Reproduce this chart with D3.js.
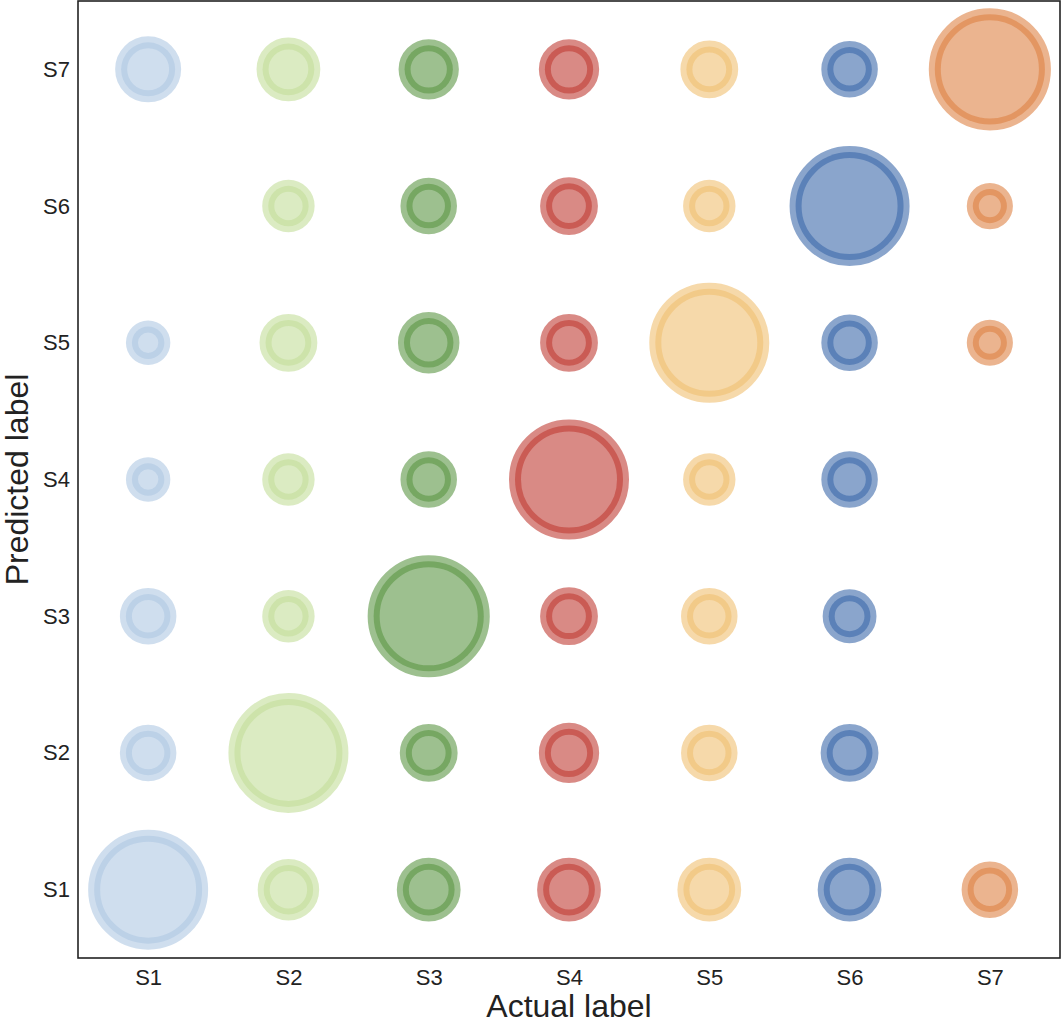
<!DOCTYPE html>
<html>
<head>
<meta charset="utf-8">
<script src="https://cdn.jsdelivr.net/npm/d3@7"></script>
<style>
  body { margin: 0; background: #fff; }
  text { font-family: "Liberation Sans", Arial, sans-serif; fill: #222; }
</style>
</head>
<body>
<div id="chart"></div>
<script>
// labels
var actualLabels = ["S1", "S2", "S3", "S4", "S5", "S6", "S7"];
var predictedLabels = ["S1", "S2", "S3", "S4", "S5", "S6", "S7"];
var labelColors = ["#afc8e3", "#c3de99", "#5c9644", "#c03c34", "#f0c071", "#3c69aa", "#de8244"];

// marker size (area units) per predicted row, one value per actual label; null = no marker
var predS1 = [100, 21, 23, 23, 23, 23, 17];
var predS2 = [17, 100, 18, 20, 17, 18, null];
var predS3 = [17, 14, 104, 18, 17, 15, null];
var predS4 = [9, 14, 17, 100, 14, 17, null];
var predS5 = [9, 18, 21, 18, 100, 17, 10];
var predS6 = [null, 14, 17, 18, 14, 100, 10];
var predS7 = [25, 23, 20, 20, 18, 17, 104];

var rows = [predS1, predS2, predS3, predS4, predS5, predS6, predS7];
var points = [];
rows.forEach(function(row, i) {
    row.forEach(function(v, j) {
        if (v != null) points.push({actual: actualLabels[j], predicted: predictedLabels[i], value: v, color: labelColors[j]});
    });
});

var margin = {top: 1, right: 2, bottom: 66, left: 78},
    width = 1062 - margin.left - margin.right,
    height = 1024 - margin.top - margin.bottom;

var svg = d3.select("#chart")
    .append("svg")
    .attr("width", 1062)
    .attr("height", 1024)
    .append("g")
    .attr("transform", "translate(" + margin.left + "," + margin.top + ")");

var x = d3.scalePoint().domain(actualLabels).range([0, width]).padding(0.5);
var y = d3.scalePoint().domain(predictedLabels.slice().reverse()).range([0, height]).padding(0.5);
var r = d3.scaleSqrt().domain([0, 100]).range([0, 54]);

// bubbles
svg.selectAll("circle.dot")
    .data(points)
    .enter()
    .append("circle")
    .attr("class", "dot")
    .attr("cx", function(d) { return x(d.actual); })
    .attr("cy", function(d) { return y(d.predicted); })
    .attr("r", function(d) { return r(d.value); })
    .attr("fill", function(d) { return d.color; })
    .attr("fill-opacity", 0.6)
    .attr("stroke", function(d) { return d.color; })
    .attr("stroke-opacity", 0.6)
    .attr("stroke-width", 12);

// axes (no tick lines)
var xAxis = svg.append("g")
    .attr("transform", "translate(0," + height + ")")
    .call(d3.axisBottom(x).tickSize(0).tickPadding(11));
var yAxis = svg.append("g")
    .call(d3.axisLeft(y).tickSize(0).tickPadding(8));
[xAxis, yAxis].forEach(function(a) {
    a.select(".domain").remove();
    a.attr("font-size", null).attr("font-family", null);
    a.selectAll("text").style("font-size", "22px").attr("fill", "#222");
});

// frame
svg.append("rect")
    .attr("width", width)
    .attr("height", height)
    .attr("fill", "none")
    .attr("stroke", "#222")
    .attr("stroke-width", 1.6);

// axis titles
svg.append("text")
    .attr("x", width / 2)
    .attr("y", height + 59)
    .attr("text-anchor", "middle")
    .style("font-size", "32px")
    .text("Actual label");

svg.append("text")
    .attr("transform", "translate(" + (-margin.left + 28) + "," + (height / 2) + ")rotate(-90)")
    .attr("text-anchor", "middle")
    .style("font-size", "32px")
    .text("Predicted label");
</script>
</body>
</html>
